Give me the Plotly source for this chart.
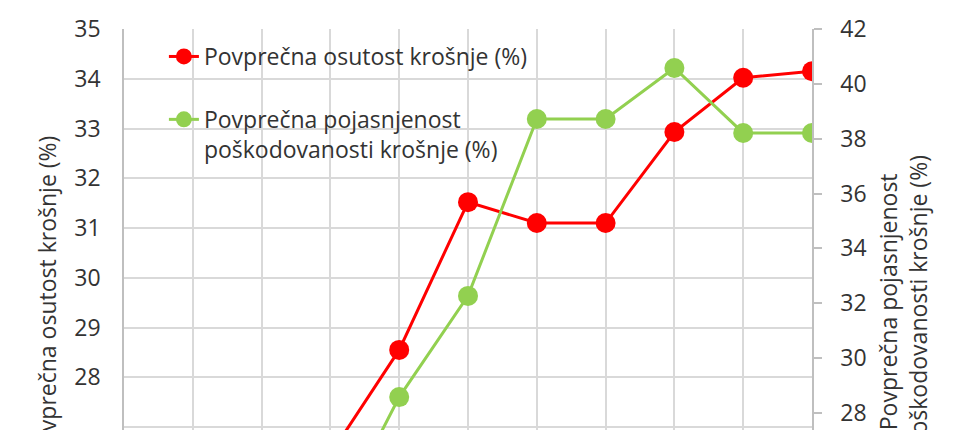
import plotly.graph_objects as go

categories = ["1", "2", "3", "4", "5", "6", "7", "8", "9", "10", "11"]
osutost = [25.4, 25.9, 26.1, 26.45, 28.55, 31.52, 31.10, 31.10, 32.93, 34.02, 34.15]
pojasnjenost = [20.5, 21.8, 22.6, 23.7, 28.58, 32.27, 38.72, 38.72, 40.58, 38.21, 38.21]

name_red = "Povprečna osutost krošnje (%)"
name_green = "Povprečna pojasnjenost<br>poškodovanosti krošnje (%)"
left_title = "Povprečna osutost krošnje (%)"
right_title = "Povprečna pojasnjenost<br>poškodovanosti krošnje (%)"

FONT = "Open Sans"
FS = 23
TXT = "#333333"
GRID = "#d9d9d9"
RED = "#ff0000"
GREEN = "#92d050"

fig = go.Figure()
fig.add_trace(go.Scatter(
    x=categories, y=osutost, name=name_red, mode="lines+markers",
    line=dict(color=RED, width=3), marker=dict(color=RED, size=20),
    legendgroup="a",
))
fig.add_trace(go.Scatter(
    x=categories, y=pojasnjenost, name=name_green, mode="lines+markers",
    line=dict(color=GREEN, width=3), marker=dict(color=GREEN, size=20),
    yaxis="y2", legendgroup="b",
))

# the page body adds an 8px offset, so the figure is 960x422 and sits at (8, 8)
fig.update_layout(
    width=960, height=422,
    margin=dict(l=116, r=156, t=21, b=0, autoexpand=False),
    paper_bgcolor="white", plot_bgcolor="white",
    font=dict(family=FONT, size=FS, color=TXT),
    showlegend=True,
    legend=dict(
        x=0.058, y=0.985, xanchor="left", yanchor="top",
        bgcolor="rgba(0,0,0,0)", traceorder="grouped", tracegroupgap=30,
        valign="top", font=dict(family=FONT, size=FS, color=TXT),
    ),
    xaxis=dict(
        type="category", range=[0, 10], showgrid=True, gridcolor=GRID, gridwidth=1.5,
        showticklabels=False, ticks="", zeroline=False, showline=False,
        automargin=False,
    ),
    yaxis=dict(
        range=[26.94, 35], dtick=1, tick0=27, showgrid=True, gridcolor=GRID, gridwidth=1.5,
        showline=True, linecolor="#bfbfbf", linewidth=1.5, ticks="",
        ticklabelstandoff=17, zeroline=False, automargin=False,
        tickfont=dict(family=FONT, size=FS, color=TXT),
    ),
    yaxis2=dict(
        range=[27.38, 42], dtick=2, tick0=28, overlaying="y", side="right",
        showgrid=False, showline=True, linecolor="#bfbfbf", linewidth=1.5,
        ticks="outside", ticklen=8, tickcolor="#bfbfbf", tickwidth=1.5,
        ticklabelstandoff=14, zeroline=False, automargin=False,
        tickfont=dict(family=FONT, size=FS, color=TXT),
    ),
    annotations=[
        dict(text=left_title, textangle=-90, xref="paper", yref="paper",
             x=-0.112, y=0.332, xanchor="center", yanchor="middle", showarrow=False,
             font=dict(family=FONT, size=FS, color=TXT)),
        dict(text=right_title, textangle=-90, xref="paper", yref="paper",
             x=1.133, y=0.319, xanchor="center", yanchor="middle", showarrow=False,
             font=dict(family=FONT, size=FS, color=TXT)),
    ],
)

fig.write_html("out.html")
